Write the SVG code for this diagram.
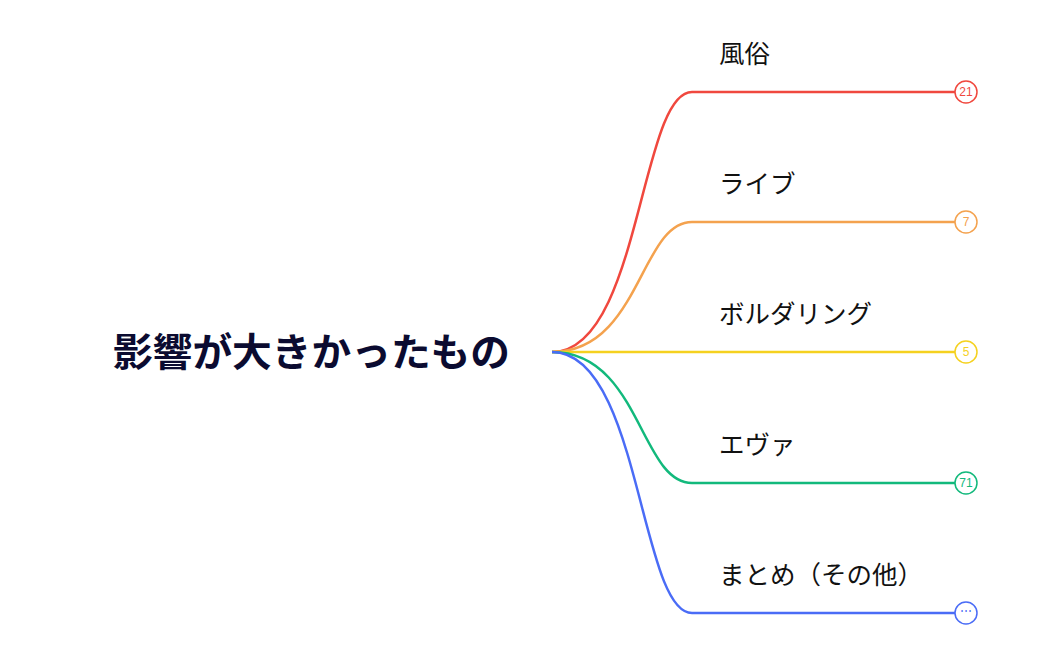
<svg xmlns="http://www.w3.org/2000/svg" width="1050" height="648" viewBox="0 0 1050 648">
<style>
.lbl{font-family:"Noto Sans CJK JP","Noto Sans",sans-serif;font-size:25.5px;fill:#111}
.root{font-family:"Noto Sans CJK JP","Noto Sans",sans-serif;font-size:39px;font-weight:bold;fill:#0b0b30}
.edge{fill:none;stroke-width:2.5}
.cnt{fill:#fff;stroke-width:1.5}
.num{font-family:"Liberation Sans",Arial,sans-serif;font-size:12px;text-anchor:middle}
</style>
<rect width="1050" height="648" fill="#fff"/>
<g id="connectors">
<path class="edge" stroke="#f0483e" d="M552,352 C640,352 640,92 692,92 L955,92"/>
<path class="edge" stroke="#f4a24e" d="M552,352 C640,352 640,222 692,222 L955,222"/>
<path class="edge" stroke="#f5d11f" d="M552,352 L955,352"/>
<path class="edge" stroke="#12b97c" d="M552,352 C640,352 640,483 692,483 L955,483"/>
<path class="edge" stroke="#4a6cf6" d="M552,352 C640,352 640,613 692,613 L955,613"/>
</g>
<g id="root"><text class="root" x="113" y="366" textLength="397" lengthAdjust="spacingAndGlyphs">影響が大きかったもの</text></g>
<g id="n1"><text class="lbl" x="719" y="63">風俗</text><circle class="cnt" cx="966" cy="92" r="11" stroke="#f0483e"/><text class="num" x="966" y="96" fill="#f0483e">21</text></g>
<g id="n2"><text class="lbl" x="719" y="193">ライブ</text><circle class="cnt" cx="966" cy="222" r="11" stroke="#f4a24e"/><text class="num" x="966" y="226" fill="#f4a24e">7</text></g>
<g id="n3"><text class="lbl" x="719" y="323">ボルダリング</text><circle class="cnt" cx="966" cy="352" r="11" stroke="#f5d11f"/><text class="num" x="966" y="356" fill="#f5d11f">5</text></g>
<g id="n4"><text class="lbl" x="719" y="454">エヴァ</text><circle class="cnt" cx="966" cy="483" r="11" stroke="#12b97c"/><text class="num" x="966" y="487" fill="#12b97c">71</text></g>
<g id="n5"><text class="lbl" x="719" y="584">まとめ（その他）</text><circle class="cnt" cx="966" cy="613" r="11" stroke="#4a6cf6"/><text class="num" x="966" y="615" fill="#4a6cf6">⋯</text></g>
</svg>
